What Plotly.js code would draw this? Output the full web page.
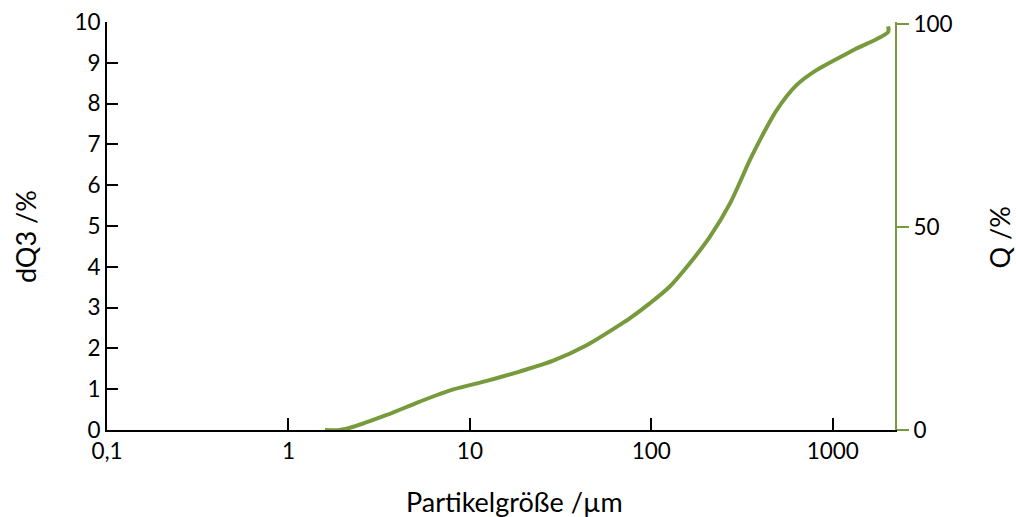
<!DOCTYPE html>
<html>
<head>
<meta charset="utf-8">
<script src="https://cdn.plot.ly/plotly-3.0.1.min.js"></script>
<style>html,body{margin:0;padding:0;background:#fff;}#chart{width:1016px;height:517px;}</style>
</head>
<body>
<div id="chart"></div>
<script>
// Particle size (µm) and cumulative distribution Q (%)
const particleSize = [1.59, 1.92, 2.28, 3.48, 5.3, 8.1, 12.4, 18.8, 28.8, 44, 67, 76, 98, 126, 163, 210, 271, 349, 396, 490, 631, 813, 1294, 2018, 2018];
const cumulativeQ = [0, 0, 0.8, 3.7, 7.0, 10.0, 12.1, 14.4, 17.1, 20.9, 25.9, 27.5, 31.2, 35.3, 41.1, 47.6, 55.8, 66.5, 71.4, 78.8, 85, 88.7, 93.6, 98.1, 99.5];

const xTickVals = [0.1, 1, 10, 100, 1000];
const xTickText = ["0,1", "1", "10", "100", "1000"];
const yTickVals = [0, 1, 2, 3, 4, 5, 6, 7, 8, 9, 10];
const y2TickVals = [0, 50, 100];

const xTitle = "Partikelgröße /µm";
const yTitle = "dQ3 /%";
const y2Title = "Q /%";

const green = "#779a3c";
const family = "Lato, 'Open Sans', sans-serif";
const tickFont = {family: family, size: 22.5, color: "#000"};
const titleFont = {family: family, size: 27, color: "#000"};

const traces = [
  {x: [], y: [], xaxis: "x", yaxis: "y", type: "scatter", mode: "lines", showlegend: false, hoverinfo: "skip"},
  {
    x: particleSize, y: cumulativeQ, xaxis: "x", yaxis: "y2",
    type: "scatter", mode: "lines",
    line: {color: green, width: 4, shape: "spline", smoothing: 0.8},
    showlegend: false
  }
];

const layout = {
  width: 1016, height: 517,
  margin: {l: 107, r: 121, t: 22, b: 87},
  paper_bgcolor: "#fff", plot_bgcolor: "#fff",
  font: tickFont,
  showlegend: false,
  xaxis: {
    type: "log", range: [-1, 3.343],
    tickvals: xTickVals, ticktext: xTickText,
    showline: true, linecolor: "#000", linewidth: 2,
    ticks: "inside", ticklen: 12, tickwidth: 2, tickcolor: "#000",
    showgrid: false, zeroline: false,
    tickfont: tickFont
  },
  yaxis: {
    range: [0, 10], tickvals: yTickVals,
    showline: true, linecolor: "#000", linewidth: 2,
    ticks: "inside", ticklen: 11, tickwidth: 2, tickcolor: "#000",
    showgrid: false, zeroline: false,
    tickfont: tickFont
  },
  yaxis2: {
    overlaying: "y", side: "right",
    range: [0, 100.57], tickvals: y2TickVals,
    showline: true, linecolor: green, linewidth: 2,
    ticks: "outside", ticklen: 12, tickwidth: 2, tickcolor: green,
    showgrid: false, zeroline: false,
    tickfont: tickFont
  },
  annotations: [
    {text: xTitle, xref: "paper", yref: "paper", x: 0.5165, y: -0.176, xanchor: "center", yanchor: "middle", showarrow: false, font: titleFont},
    {text: yTitle, xref: "paper", yref: "paper", x: -0.104, y: 0.473, xanchor: "center", yanchor: "middle", textangle: -90, showarrow: false, font: titleFont},
    {text: y2Title, xref: "paper", yref: "paper", x: 1.1325, y: 0.473, xanchor: "center", yanchor: "middle", textangle: -90, showarrow: false, font: titleFont}
  ]
};

Plotly.newPlot("chart", traces, layout, {displayModeBar: false, staticPlot: true});
</script>
</body>
</html>
